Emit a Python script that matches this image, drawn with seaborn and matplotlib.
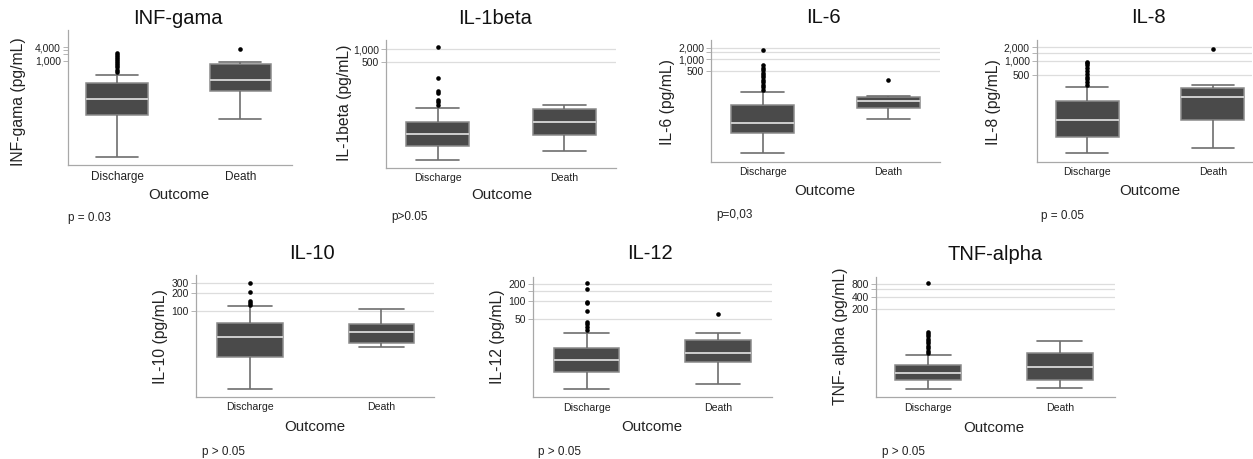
import numpy as np
import pandas as pd
import matplotlib
matplotlib.use("Agg")
import matplotlib.pyplot as plt
import matplotlib.ticker as mticker
import seaborn as sns

# ---------------- data (pg/mL) ----------------
cytokines = ["INF-gama", "IL-1beta", "IL-6", "IL-8", "IL-10", "IL-12", "TNF-alpha"]
ylabels = ["INF-gama (pg/mL)", "IL-1beta (pg/mL)", "IL-6 (pg/mL)", "IL-8 (pg/mL)",
           "IL-10 (pg/mL)", "IL-12 (pg/mL)", "TNF- alpha (pg/mL)"]
p_texts = ["p = 0.03", "p>0.05", "p=0,03", "p = 0.05", "p > 0.05", "p > 0.05", "p > 0.05"]
outcomes = ["Discharge", "Death"]

dis_low = [0.057, 2.34, 3.76, 10.3, 4.6, 2.9, 2.19]
dis_q1 = [4.2, 5.1, 12.3, 22.8, 16.5, 5.75, 3.7]
dis_med = [21, 9.5, 23, 53.8, 35.4, 9.4, 5.6]
dis_q3 = [104, 18.4, 65, 140, 61.5, 15, 8.6]
dis_high = [242, 39.5, 144, 272, 120, 27.8, 14.8]
dis_outliers = [
    [330, 420, 520, 650, 800, 1000, 1200, 1500, 1800, 2200],
    [47.5, 57, 62.5, 90, 104, 208, 1116],
    [162, 190, 220, 260, 300, 350, 400, 450, 520, 600, 700, 1740],
    [305, 350, 400, 450, 520, 600, 700, 800, 900, 968],
    [127, 139, 148, 212, 298],
    [31.4, 36, 39.5, 44, 67.6, 92, 98.7, 162, 207],
    [16.6, 19, 22, 25, 29, 33, 38, 44, 50, 56, 848],
]

death_low = [2.8, 3.9, 29.4, 13.7, 24.2, 3.55, 2.31]
death_q1 = [48, 9.4, 55.6, 53, 28.7, 8.6, 3.8]
death_med = [146, 18.7, 84, 166, 43.6, 12.2, 7.8]
death_q3 = [738, 38.9, 105, 262, 59.8, 20.7, 16.9]
death_high = [904, 47.5, 113, 300, 107, 27.5, 33]
death_outliers = [[3380], [], [287], [1810], [], [59], []]

ytick_major = [[1000, 4000], [500, 1000], [500, 1000, 2000], [500, 1000, 2000],
               [100, 200, 300], [50, 100, 200], [200, 400, 800]]
ytick_minor = [[2000, 3000], [], [1500], [1500], [], [150], [600]]

# ---------------- layout (pixels, top-left origin) ----------------
W, H = 1253, 459
boxes = [(68, 292, 30, 165), (386, 616, 40, 167.7), (711, 940, 40, 161.7),
         (1036.7, 1252, 40, 161.7), (196, 434, 275, 396.7),
         (532.7, 771.7, 276.7, 397.3), (875.7, 1115, 276.7, 397.3)]
xlims = [(-0.40, 1.42), (-0.41, 1.41), (-0.41, 1.41), (-0.40, 1.31),
         (-0.41, 1.40), (-0.41, 1.41), (-0.40, 1.42)]
ylims = [(0.026, 23200), (1.54, 1667), (2.29, 3150), (6.8, 2830),
         (3.4, 414), (2.07, 271), (1.4, 1230)]
title_pos = [(178, 27), (495, 27), (823, 26), (1148, 26), (312, 262), (650, 262), (995, 263)]
ylabel_pos = [(26, 102), (351.7, 103), (675, 102), (1000.7, 102),
              (168.3, 336.7), (505, 336.7), (848.3, 336.7)]
xlabel_pos = [(179, 195), (501.7, 195), (825, 190.7), (1150, 190.7),
              (315, 427.3), (651.7, 427.3), (994, 428.3)]
p_pos = [(68, 218), (391.7, 216.7), (716, 215), (1041, 216),
         (201.7, 452), (538, 452), (881.7, 452)]
show_grid = [False, True, True, True, True, True, True]
xtick_size = [8.5, 7.6, 7.6, 7.6, 7.6, 7.6, 7.6]

BOX = "#4a4a4a"
EDGE = "#8a8a8a"
WHISK = "#6e6e6e"
MED = "#cfcfcf"
TXT = "#222222"
AXC = "#a8a8a8"
GRID = "#dddddd"

sns.set_style("white")
plt.rcParams["font.family"] = ["Liberation Sans", "DejaVu Sans"]
plt.rcParams["text.color"] = TXT

fig = plt.figure(figsize=(W / 100, H / 100), dpi=100)
fig.patch.set_facecolor("white")


def fx(px):
    return px / W


def fy(py):
    return 1 - py / H


for i in range(7):
    l, r, t, b = boxes[i]
    ax = fig.add_axes([fx(l), fy(b), (r - l) / W, (b - t) / H])

    box_df = pd.DataFrame({
        "Outcome": ["Discharge"] * 7 + ["Death"] * 7,
        "value": [dis_low[i], dis_q1[i], dis_q1[i], dis_med[i], dis_q3[i], dis_q3[i], dis_high[i],
                  death_low[i], death_q1[i], death_q1[i], death_med[i], death_q3[i],
                  death_q3[i], death_high[i]],
    })
    sns.boxplot(data=box_df, x="Outcome", y="value", order=outcomes, whis=(0, 100),
                width=0.5, color=BOX, linecolor=EDGE, linewidth=1.1, saturation=1,
                showfliers=False, log_scale=True, capwidths=0.34,
                medianprops=dict(color=MED, linewidth=1.4),
                boxprops=dict(facecolor=BOX, edgecolor=EDGE),
                whiskerprops=dict(color=WHISK, linewidth=1.2),
                capprops=dict(color=WHISK, linewidth=1.2),
                ax=ax)

    out_df = pd.DataFrame({
        "Outcome": ["Discharge"] * len(dis_outliers[i]) + ["Death"] * len(death_outliers[i]),
        "value": dis_outliers[i] + death_outliers[i],
    })
    sns.stripplot(data=out_df, x="Outcome", y="value", order=outcomes, jitter=False,
                  color="black", size=3.3, linewidth=0, log_scale=True, ax=ax, zorder=5)

    ax.set_xlim(*xlims[i])
    ax.set_ylim(*ylims[i])
    ax.yaxis.set_major_locator(mticker.FixedLocator(ytick_major[i]))
    ax.yaxis.set_major_formatter(mticker.FuncFormatter(lambda v, p: f"{v:,.0f}"))
    ax.yaxis.set_minor_locator(mticker.FixedLocator(ytick_minor[i]))
    ax.yaxis.set_minor_formatter(mticker.NullFormatter())

    if show_grid[i]:
        ax.yaxis.grid(True, which="both", color=GRID, linewidth=0.9)
    else:
        ax.yaxis.grid(False, which="both")
    ax.xaxis.grid(False)
    ax.set_axisbelow(True)

    for s in ["top", "right"]:
        ax.spines[s].set_visible(False)
    for s in ["left", "bottom"]:
        ax.spines[s].set_color(AXC)
        ax.spines[s].set_linewidth(0.9)

    ax.tick_params(axis="y", which="both", left=True, length=3.5, width=0.6, color=AXC,
                   labelsize=7.5, pad=1.5, labelcolor=TXT)
    ax.tick_params(axis="x", bottom=False, length=0, labelsize=xtick_size[i], pad=4,
                   labelcolor=TXT)

    # title
    tx, ty = title_pos[i]
    ax.set_title(cytokines[i], x=(tx - l) / (r - l), y=(b - ty) / (b - t),
                 va="center", fontsize=14.5, color="#111111")
    # axis labels
    ax.set_ylabel(ylabels[i], fontsize=11.3, color=TXT)
    ax.yaxis.set_label_coords(fx(ylabel_pos[i][0]), fy(ylabel_pos[i][1]),
                              transform=fig.transFigure)
    ax.set_xlabel("Outcome", fontsize=10.8, color=TXT)
    ax.xaxis.label.set_va("center")
    ax.xaxis.set_label_coords(fx(xlabel_pos[i][0]), fy(xlabel_pos[i][1]),
                              transform=fig.transFigure)
    # p-value note
    fig.text(fx(p_pos[i][0]), fy(p_pos[i][1]), p_texts[i], ha="left", va="center",
             fontsize=8.5, color=TXT)

fig.savefig("out.png", dpi=100, facecolor="white")
